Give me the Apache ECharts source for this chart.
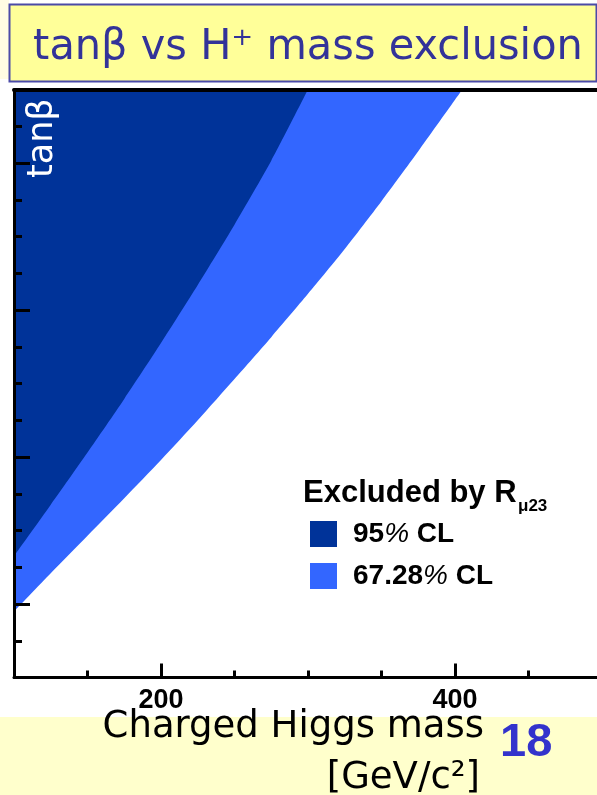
<!DOCTYPE html>
<html>
<head>
<meta charset="utf-8">
<style>
  html, body { margin: 0; padding: 0; background: #ffffff; }
  #chart { width: 597px; height: 795px; }
</style>
<script src="https://cdn.jsdelivr.net/npm/echarts@6/dist/echarts.min.js"></script>
</head>
<body>
<div id="chart"></div>
<script>
// Exclusion contours in the (charged Higgs mass, tan beta) plane
const massDark  = [100, 125, 150, 175, 200, 225, 250, 275, 300];
const tanbDark  = [26.5, 33.5, 40.6, 47.9, 55.5, 63.4, 71.6, 80.3, 90.0];

const massLight = [100, 125, 150, 175, 200, 225, 250, 275, 300, 325, 350, 375, 400, 405];
const tanbLight = [19.0, 24.2, 29.3, 34.4, 39.6, 45.0, 50.6, 56.3, 62.2, 68.3, 74.8, 81.6, 88.6, 90.0];

const seriesNames = ['95% CL', '67.28% CL'];
// visible mass window (the frame continues past the right edge)
const massMin = 100;
const massMax = 496.6;
const minorMassTicks = [150, 200, 250, 300, 350, 400, 450];
const majorMassTicks = [200, 400];
const tanbMin = 10;
const tanbMax = 90;
const majorTanbTicks = [20, 40, 60, 80];

const zip = (xs, ys) => xs.map((x, i) => [x, ys[i]]);

const DARK = '#003399';
const LIGHT = '#3366FF';
const axisColor = '#000000';

const chart = echarts.init(document.getElementById('chart'), null, { renderer: 'canvas' });

function text(x, y, str, font, fill, align, extra) {
  return Object.assign({
    type: 'text', x: x, y: y, z: 100,
    style: {
      text: str, font: font, fill: fill,
      align: align, textAlign: align,
      verticalAlign: 'middle', textVerticalAlign: 'middle'
    }
  }, extra || {});
}

const option = {
  backgroundColor: '#ffffff',
  animation: false,
  grid: { left: 14, top: 89.5, width: 583, height: 588, containLabel: false },
  xAxis: [
    {
      type: 'value', min: massMin, max: massMax, position: 'bottom', z: 10,
      axisLine: { show: true, onZero: false, lineStyle: { color: axisColor, width: 3 } },
      axisTick: { show: true, inside: true, length: 7, customValues: minorMassTicks,
                  lineStyle: { color: axisColor, width: 3 } },
      axisLabel: { show: false },
      splitLine: { show: false }
    },
    {
      type: 'value', min: massMin, max: massMax, position: 'bottom', z: 10,
      axisLine: { show: false, onZero: false },
      axisTick: { show: true, inside: true, length: 14, customValues: majorMassTicks,
                  lineStyle: { color: axisColor, width: 3 } },
      axisLabel: { show: true, customValues: majorMassTicks, margin: 10, color: '#000',
                   fontFamily: 'Liberation Sans', fontWeight: 'bold', fontSize: 27 },
      splitLine: { show: false }
    },
    {
      type: 'value', min: massMin, max: massMax, position: 'top', z: 10,
      axisLine: { show: true, onZero: false, lineStyle: { color: axisColor, width: 4 } },
      axisTick: { show: false },
      axisLabel: { show: false },
      splitLine: { show: false }
    }
  ],
  yAxis: [
    {
      type: 'value', min: tanbMin, max: tanbMax, interval: 5, position: 'left', z: 10,
      axisLine: { show: true, onZero: false, lineStyle: { color: axisColor, width: 3 } },
      axisTick: { show: true, inside: true, length: 8, lineStyle: { color: axisColor, width: 3 } },
      axisLabel: { show: false },
      splitLine: { show: false }
    },
    {
      type: 'value', min: tanbMin, max: tanbMax, position: 'left', z: 10,
      axisLine: { show: false, onZero: false },
      axisTick: { show: true, inside: true, length: 16, customValues: majorTanbTicks,
                  lineStyle: { color: axisColor, width: 3 } },
      axisLabel: { show: false },
      splitLine: { show: false }
    }
  ],
  legend: {
    data: seriesNames,
    orient: 'vertical',
    left: 310, top: 520,
    padding: 0,
    itemWidth: 27, itemHeight: 26, itemGap: 14,
    icon: 'rect',
    selectedMode: false,
    formatter: function (name) {
      const i = name.indexOf('%');
      return '{b|' + name.slice(0, i) + '}{p|%}{b|' + name.slice(i + 1) + '}';
    },
    textStyle: {
      padding: [0, 0, 0, 11],
      lineHeight: 26,
      rich: {
        b: { fontFamily: 'Liberation Sans', fontWeight: 'bold', fontSize: 28, color: '#000', lineHeight: 26 },
        p: { fontFamily: 'Liberation Sans', fontStyle: 'italic', fontWeight: 'normal', fontSize: 28, color: '#000', lineHeight: 26 }
      }
    }
  },
  series: [
    {
      type: 'line', name: seriesNames[1], xAxisIndex: 0, yAxisIndex: 0,
      data: zip(massLight, tanbLight),
      symbol: 'none', z: 2, silent: true,
      smooth: 0.25,
      itemStyle: { color: LIGHT },
      lineStyle: { width: 0, color: LIGHT },
      areaStyle: { origin: 'end', color: LIGHT, opacity: 1 }
    },
    {
      type: 'line', name: seriesNames[0], xAxisIndex: 0, yAxisIndex: 0,
      data: zip(massDark, tanbDark),
      symbol: 'none', z: 3, silent: true,
      smooth: 0.25,
      itemStyle: { color: DARK },
      lineStyle: { width: 0, color: DARK },
      areaStyle: { origin: 'end', color: DARK, opacity: 1 }
    }
  ],
  graphic: [
    { type: 'rect', z: 0, shape: { x: 0, y: 0, width: 9, height: 79 }, style: { fill: '#FFFDE3' } },
    { type: 'rect', z: 1, shape: { x: 9.5, y: 4.5, width: 587, height: 77 },
      style: { fill: '#FFFF99', stroke: '#4B4BA8', lineWidth: 2 } },
    text(32, 48, 'tanβ vs H\u207A mass exclusion', '43px "DejaVu Sans"', '#333399', 'left',
         { scaleX: 0.965, originX: 32 }),
    { type: 'rect', z: 0, shape: { x: 0, y: 717, width: 597, height: 78 }, style: { fill: '#FFFFCC' } },
    text(484, 727, 'Charged Higgs mass', '37px "DejaVu Sans"', '#000000', 'right'),
    text(480, 778, '[GeV/c\u00B2]', '37px "DejaVu Sans"', '#000000', 'right'),
    text(500, 743, '18', 'bold 47px "Liberation Sans"', '#3333CC', 'left'),
    text(43, 178, 'tanβ', '35px "DejaVu Sans"', '#FFFFFF', 'left', { rotation: Math.PI / 2 }),
    text(303, 493, 'Excluded by R', 'bold 31px "Liberation Sans"', '#000000', 'left'),
    text(518, 506, 'μ23', 'bold 17px "Liberation Sans"', '#000000', 'left')
  ]
};

chart.setOption(option);
</script>
</body>
</html>
